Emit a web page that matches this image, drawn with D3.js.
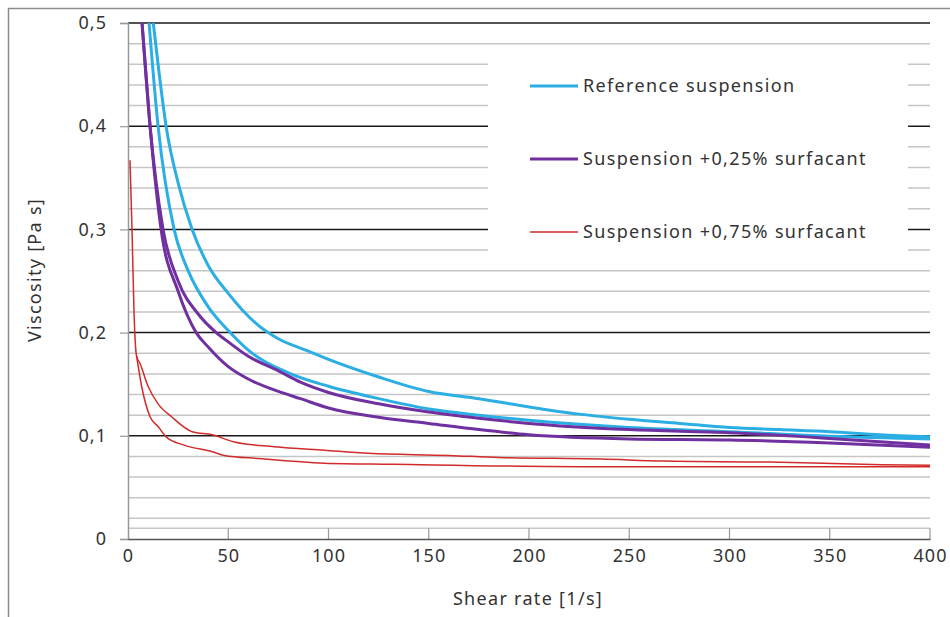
<!DOCTYPE html>
<html>
<head>
<meta charset="utf-8">
<script src="https://cdn.jsdelivr.net/npm/d3@7"></script>
<style>
body { margin: 0; background: #fff; }
text { font-family: "Noto Sans", "Open Sans", sans-serif; fill: #333; }
</style>
</head>
<body>
<svg id="chart" width="950" height="617"></svg>
<script>
// shear rate [1/s], viscosity [Pa s]
var refUp = [[12.6,0.5],[15,0.46],[19,0.40],[25,0.345],[32,0.30],[40,0.265],[50,0.238],[57,0.222],[65,0.207],[75,0.194],
  [90,0.182],[100,0.174],[125,0.157],[150,0.143],[175,0.136],[200,0.128],[225,0.121],[250,0.116],[275,0.112],[300,0.108],
  [325,0.106],[350,0.104],[375,0.101],[400,0.099]];
var refDown = [[10.5,0.5],[15,0.40],[23,0.30],[30,0.26],[40,0.225],[50,0.202],[60,0.183],[80,0.161],[100,0.148],[125,0.136],
  [150,0.126],[175,0.12],[200,0.115],[250,0.108],[300,0.104],[350,0.0995],[400,0.097]];
var surf25Up = [[7,0.5],[11,0.40],[17.5,0.30],[25,0.25],[35,0.218],[44,0.20],[50,0.191],[60,0.177],[75,0.163],[86,0.152],
  [100,0.142],[125,0.131],[150,0.123],[175,0.117],[200,0.112],[250,0.106],[300,0.103],[350,0.0975],[400,0.091]];
var surf25Down = [[7,0.5],[11,0.40],[16.5,0.30],[25,0.24],[34,0.20],[40,0.186],[50,0.167],[60,0.155],[75,0.143],[86,0.136],
  [100,0.127],[125,0.118],[150,0.112],[175,0.106],[200,0.101],[250,0.097],[300,0.096],[350,0.093],[400,0.089]];
var surf75Up = [[1,0.367],[2,0.30],[3,0.22],[4.3,0.177],[6,0.17],[10,0.148],[15,0.131],[22,0.118],[32,0.104],[42,0.101],
  [53,0.094],[73,0.0895],[98,0.086],[120,0.083],[160,0.081],[185,0.079],[236,0.0775],[267,0.0755],[320,0.0745],
  [376,0.072],[400,0.0715]];
var surf75Down = [[4.3,0.177],[6.8,0.148],[11,0.1185],[15,0.109],[19,0.099],[28,0.091],[42,0.0846],[48,0.081],[65,0.078],
  [98,0.0735],[132,0.0724],[235,0.070],[400,0.070]];

var seriesNames = ["Reference suspension", "Suspension +0,25% surfacant", "Suspension +0,75% surfacant"];
var seriesColors = ["#2aaee4", "#7030a0", "#d22b2b"];
var seriesWidths = [3, 3, 1.5];
var xTicks = [0, 50, 100, 150, 200, 250, 300, 350, 400];
var yTicks = [0, 0.1, 0.2, 0.3, 0.4, 0.5];
var yMinor = [0.0105, 0.02, 0.04, 0.06, 0.08, 0.12, 0.14, 0.16, 0.18, 0.22, 0.24, 0.26, 0.28,
  0.32, 0.34, 0.36, 0.38, 0.42, 0.44, 0.46, 0.48];

var curves = [
  {data: refUp, s: 0}, {data: refDown, s: 0},
  {data: surf25Up, s: 1}, {data: surf25Down, s: 1},
  {data: surf75Up, s: 2}, {data: surf75Down, s: 2}
];

var svg = d3.select("#chart");
var x = d3.scaleLinear().domain([0, 400]).range([128, 930]);
var y = d3.scaleLinear().domain([0, 0.5]).range([539, 23]);
var fmt = function(d){ return String(d).replace(".", ","); };

// outer frame
svg.append("rect").attr("x", 8.5).attr("y", 8.5).attr("width", 960).attr("height", 640)
  .attr("fill", "#fff").attr("stroke", "#8c8c8c").attr("stroke-width", 1.5);

// gridlines
svg.append("g").selectAll("line").data(yMinor).enter().append("line")
  .attr("x1", x(0)).attr("x2", x(400))
  .attr("y1", function(d){ return y(d); }).attr("y2", function(d){ return y(d); })
  .attr("stroke", "#c6c6c6").attr("stroke-width", 1.5);
svg.append("g").selectAll("line").data(yTicks.slice(1)).enter().append("line")
  .attr("x1", x(0)).attr("x2", x(400))
  .attr("y1", function(d){ return y(d); }).attr("y2", function(d){ return y(d); })
  .attr("stroke", "#1a1a1a").attr("stroke-width", 1.5);

// x ticks point inward
svg.append("g").selectAll("line").data(xTicks.slice(1)).enter().append("line")
  .attr("x1", function(d){ return x(d); }).attr("x2", function(d){ return x(d); })
  .attr("y1", y(0)).attr("y2", y(0.0105))
  .attr("stroke", "#999").attr("stroke-width", 1.2);

// y axis
var yAxis = svg.append("g").attr("transform", "translate(" + x(0) + ",0)")
  .call(d3.axisLeft(y).tickValues(yTicks).tickFormat(fmt).tickSize(8).tickPadding(13));
yAxis.select(".domain").attr("stroke", "#999").attr("stroke-width", 1.5);
yAxis.selectAll(".tick line").attr("stroke", "#999").attr("stroke-width", 1.2);
yAxis.selectAll(".tick text").style("font-size", "18px").style("letter-spacing", "1px").attr("fill", "#333");

// x axis
var xAxis = svg.append("g").attr("transform", "translate(0," + y(0) + ")")
  .call(d3.axisBottom(x).tickValues(xTicks).tickSize(0).tickPadding(10));
xAxis.select(".domain").attr("stroke", "#555").attr("stroke-width", 1.5);
xAxis.selectAll(".tick text").style("font-size", "18px").style("letter-spacing", "1px").attr("fill", "#333");

// legend panel covers the grid
svg.append("rect").attr("x", 488).attr("y", 52).attr("width", 420).attr("height", 216).attr("fill", "#fff");

// curves
svg.append("defs").append("clipPath").attr("id", "plot")
  .append("rect").attr("x", x(0)).attr("y", y(0.5) - 1).attr("width", x(400) - x(0)).attr("height", y(0) - y(0.5) + 1);
var line = d3.line().curve(d3.curveMonotoneX)
  .x(function(d){ return x(d[0]); }).y(function(d){ return y(d[1]); });
svg.append("g").attr("clip-path", "url(#plot)").selectAll("path").data(curves).enter().append("path")
  .attr("d", function(d){ return line(d.data); })
  .attr("fill", "none")
  .attr("stroke", function(d){ return seriesColors[d.s]; })
  .attr("stroke-width", function(d){ return seriesWidths[d.s]; })
  .attr("stroke-linejoin", "round");

// legend
var leg = svg.append("g").selectAll("g").data(seriesNames).enter().append("g")
  .attr("transform", function(d, i){ return "translate(530," + (86 + i * 73) + ")"; });
leg.append("line").attr("x1", 0).attr("x2", 48)
  .attr("stroke", function(d, i){ return seriesColors[i]; })
  .attr("stroke-width", function(d, i){ return seriesWidths[i]; });
leg.append("text").attr("x", 53).attr("dy", "0.35em").style("font-size", "18px").style("letter-spacing", "1.35px")
  .text(function(d){ return d; });

// axis titles
svg.append("text").attr("x", 528).attr("y", 605).attr("text-anchor", "middle")
  .style("font-size", "18px").style("letter-spacing", "1.3px").text("Shear rate [1/s]");
svg.append("text").attr("transform", "translate(41,270) rotate(-90)").attr("text-anchor", "middle")
  .style("font-size", "18px").style("letter-spacing", "1.3px").text("Viscosity [Pa s]");
</script>
</body>
</html>
